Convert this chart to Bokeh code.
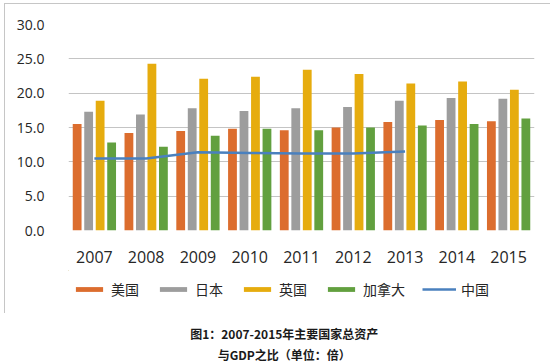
from bokeh.plotting import figure
from bokeh.models import (FactorRange, Range1d, FixedTicker, NumeralTickFormatter,
                          Legend, LegendItem, ColumnDataSource)
from bokeh.transform import dodge
from bokeh.layouts import column
from bokeh.core.properties import value
from bokeh.embed import file_html
from bokeh.resources import INLINE

years = ["2007", "2008", "2009", "2010", "2011", "2012", "2013", "2014", "2015"]
usa = [15.5, 14.2, 14.5, 14.8, 14.6, 15.0, 15.8, 16.1, 15.9]
japan = [17.3, 16.9, 17.8, 17.4, 17.8, 18.0, 18.9, 19.3, 19.2]
uk = [18.9, 24.3, 22.1, 22.4, 23.4, 22.8, 21.4, 21.7, 20.5]
canada = [12.8, 12.2, 13.8, 14.8, 14.6, 15.0, 15.3, 15.5, 16.3]
china_years = ["2007", "2008", "2009", "2010", "2011", "2012", "2013"]
china = [10.5, 10.5, 11.4, 11.3, 11.2, 11.2, 11.5]
y_ticks = [0, 5, 10, 15, 20, 25, 30]
series_names = ["美国", "日本", "英国", "加拿大", "中国"]
caption1 = "图1：2007-2015年主要国家总资产"
caption2 = "与GDP之比（单位：倍）"

colors = ["#DC6D2E", "#9D9D9D", "#E6AC0E", "#62A03F", "#4A80BE"]
CJK = "Noto Sans CJK SC"
NUM = "Open Sans"
BORDER = "1px solid #c6c6c6"

src = ColumnDataSource(dict(year=years, usa=usa, japan=japan, uk=uk, canada=canada))

# --- main chart ---
p = figure(width=546, height=267, x_range=FactorRange(factors=years),
           y_range=Range1d(0, 30), output_backend="svg", toolbar_location=None,
           min_border_left=63, min_border_right=17, min_border_top=20,
           min_border_bottom=41)
p.styles = {"border-top": BORDER, "border-left": BORDER}
p.outline_line_color = None
p.xgrid.grid_line_color = None
p.ygrid.grid_line_color = "#c4c4c4"
p.ygrid.grid_line_width = 1
p.ygrid.ticker = FixedTicker(ticks=y_ticks)

p.yaxis.ticker = FixedTicker(ticks=y_ticks)
p.yaxis.formatter = NumeralTickFormatter(format="0.0")
p.yaxis.axis_line_color = None
p.yaxis.major_tick_line_color = None
p.yaxis.minor_tick_line_color = None
p.yaxis.major_label_standoff = 18
p.yaxis.major_label_text_font = NUM
p.yaxis.major_label_text_font_size = "14px"
p.yaxis.major_label_text_color = "#262626"

p.xaxis.axis_line_color = None
p.xaxis.major_tick_line_color = None
p.xaxis.major_label_standoff = 14
p.xaxis.major_label_text_font = NUM
p.xaxis.major_label_text_font_size = "16px"
p.xaxis.major_label_text_color = "#262626"

offsets = [-0.333, -0.111, 0.111, 0.333]
fields = ["usa", "japan", "uk", "canada"]
for f, off, c in zip(fields, offsets, colors[:4]):
    p.vbar(x=dodge("year", off, range=p.x_range), top=f, width=0.17, source=src,
           fill_color=c, line_color=None)
p.line(x=china_years, y=china, line_color=colors[4], line_width=2.5)

# --- legend strip (key glyphs sit outside the visible range) ---
L = figure(width=546, height=43, x_range=Range1d(4, 550), y_range=Range1d(313, 270),
           x_axis_type=None, y_axis_type=None,
           output_backend="svg", toolbar_location=None, min_border=0)
L.styles = {"border-left": BORDER}
L.grid.visible = False
L.outline_line_color = None
keys = []
for c in colors[:4]:
    keys.append(L.vbar(x=[0], top=[0], bottom=[0], width=0, fill_color=c, line_color=None))
keys.append(L.line(x=[0, 0], y=[0, 0], line_color=colors[4], line_width=2.5))
legend = Legend(items=[LegendItem(label=n, renderers=[r]) for n, r in zip(series_names, keys)],
                orientation="horizontal", location=(4, 14),
                glyph_width=34, glyph_height=6, label_standoff=5, spacing=17,
                padding=0, margin=0, border_line_color=None, background_fill_alpha=0,
                label_text_font=CJK, label_text_font_size="14px",
                label_text_color="#262626")
L.add_layout(legend, "center")

# --- caption ---
cap = figure(width=546, height=50, x_range=Range1d(4, 550), y_range=Range1d(363, 313),
             x_axis_type=None, y_axis_type=None,
             output_backend="svg", toolbar_location=None, min_border=0)
cap.grid.visible = False
cap.outline_line_color = None
cap.text(x=[258, 258], y=[333, 354], text=[caption1, caption2], text_align="center",
         text_baseline="middle", text_font=value(CJK), text_font_style="bold",
         text_font_size="12px", text_color="#1a1a1a")

layout = column(p, L, cap, margin=(3, 0, 0, 4), spacing=0)
open("out.html", "w").write(file_html(layout, INLINE))
